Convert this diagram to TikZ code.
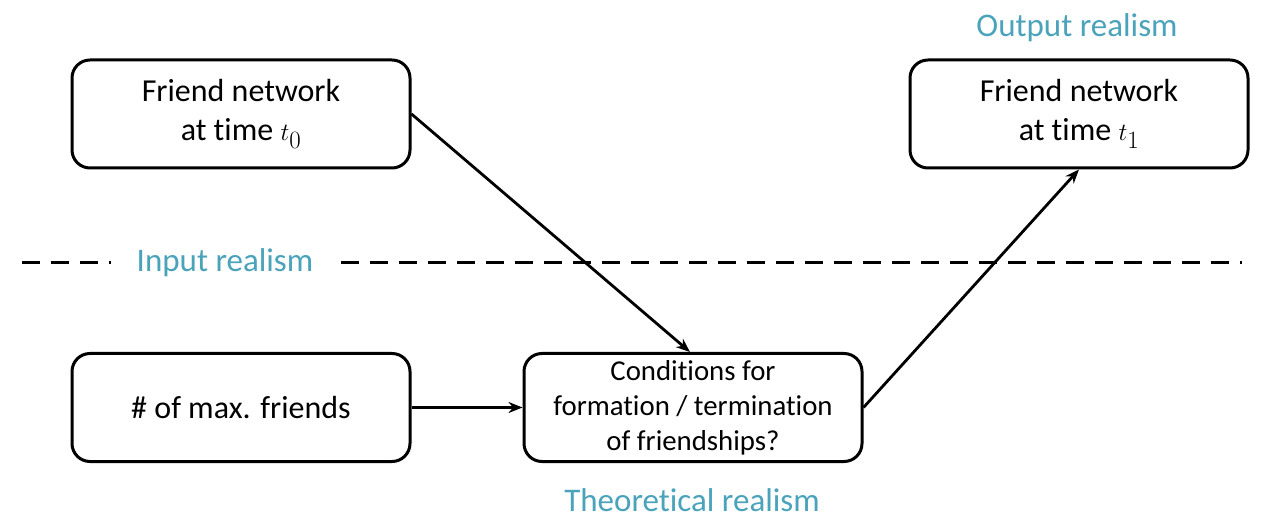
\documentclass[tikz,border=0pt]{standalone}
\usepackage{fontspec}
\setmainfont[Ligatures=NoCommon,RawFeature={-liga;-clig;-calt;-dlig}]{Carlito}
\usetikzlibrary{arrows.meta}
\definecolor{realteal}{RGB}{74,163,187}
\newcommand{\bigmath}[1]{{\fontsize{40}{39}\selectfont$#1$}}
\newcommand{\nt}{t\kern0pt }
\tikzset{
  box/.style={draw=black, line width=3pt, rounded corners=18pt, minimum width=338pt, minimum height=108pt, inner sep=0pt, align=center, font=\fontsize{32}{39}\selectfont},
  smallbox/.style={box, font=\fontsize{28.8}{35}\selectfont},
  realism/.style={text=realteal, inner sep=0pt, font=\fontsize{33}{40}\selectfont},
  conn/.style={line width=2.8pt, -{Stealth[length=14pt,width=11pt]}},
}
\begin{document}
\begin{tikzpicture}[x=1pt,y=-1pt]
\useasboundingbox (0,0) rectangle (1272,526);
\coordinate (dl) at (22,263);
\coordinate (dr) at (1242,263);
\draw[line width=3pt, dash pattern=on 18pt off 11pt] (dl) -- (dr);
\node[realism, fill=white, inner xsep=26pt, inner ysep=4pt] (inreal) at (225,263) {Input realism};
\node[realism] (outreal) at (1077,28) {Output realism};
\node[realism] (threal) at (692,500) {Theore\nt ical realism};
\node[box] (A) at (241,114) {Friend network\\at \nt ime \bigmath{t_0}};
\node[box] (B) at (1079,114) {Friend network\\at \nt ime \bigmath{t_1}};
\node[box] (C) at (241,407.5) {\# of max. friends};
\node[smallbox] (D) at (693,407.5) {Conditions for\\forma\nt ion / termina\nt ion\\of friendships?};
\draw[conn] (A.east) -- ([xshift=-3pt]D.north);
\draw[conn] (C.east) -- (D.west);
\draw[conn] (D.east) -- (B.south);
\end{tikzpicture}
\end{document}
